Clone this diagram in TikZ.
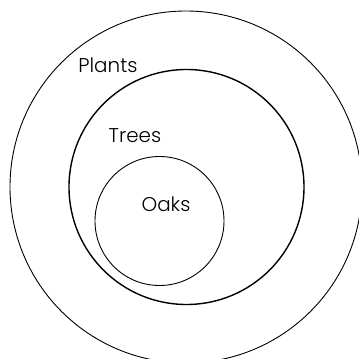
\documentclass[tikz,border=0pt]{standalone}
\usepackage{fontspec}
\setmainfont{Poppins}[UprightFont=* Light]
\begin{document}
\begin{tikzpicture}[x=1bp,y=-1bp]
\tikzset{setcircle/.style={draw,circle,inner sep=0pt},
  setlabel/.style={anchor=base,inner sep=0pt,font=\fontsize{20}{22}\selectfont}}
\useasboundingbox (0,0) rectangle (359,359);
% nested sets
\node[setcircle,line width=0.9bp,minimum size=352bp] (plants) at (186,187) {};
\node[setcircle,line width=1.4bp,minimum size=235bp] (trees) at (186.5,187) {};
\node[setcircle,line width=0.9bp,minimum size=129bp] (oaks) at (159.5,221) {};
% labels
\node[setlabel] (plantslbl) at (108,72) {Plants};
\node[setlabel] (treeslbl) at (135,142) {Trees};
\node[setlabel] (oakslbl) at (166,211) {Oaks};
\end{tikzpicture}
\end{document}
